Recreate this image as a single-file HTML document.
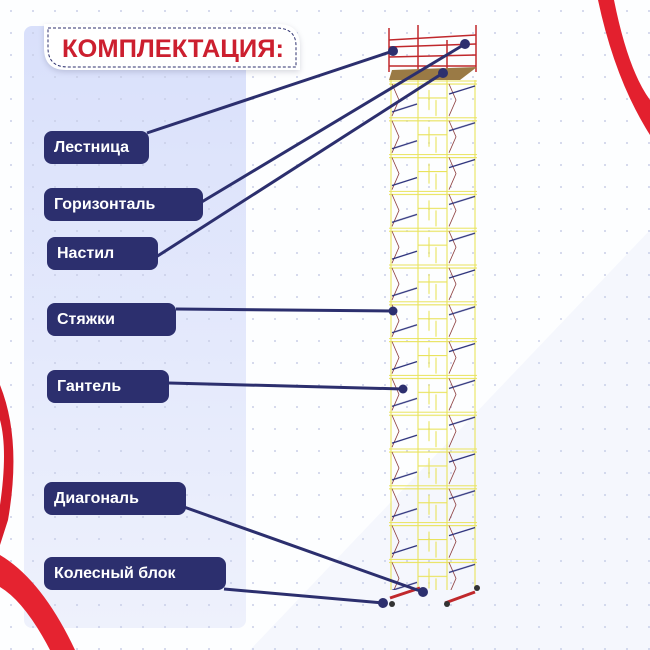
<!DOCTYPE html>
<html><head><meta charset="utf-8"><style>
body{margin:0;width:650px;height:650px;overflow:hidden;background:#fff;font-family:"Liberation Sans",sans-serif;}
.lab{position:absolute;background:#2c2f6e;color:#fff;font-weight:bold;font-size:16px;border-radius:8px;box-sizing:border-box;padding-left:10px;line-height:33px;height:33px;}
</style></head><body>
<svg width="650" height="650" style="position:absolute;left:0;top:0">
<defs>
<pattern id="dots" width="22" height="22" patternUnits="userSpaceOnUse"><circle cx="11" cy="11" r="1" fill="#c9cfe8"/></pattern>
<linearGradient id="pg" x1="0" y1="0" x2="0" y2="1"><stop offset="0" stop-color="#d9e0fb"/><stop offset="1" stop-color="#eef1fc"/></linearGradient>
<pattern id="lvl" x="389" y="80" width="88" height="36.8" patternUnits="userSpaceOnUse">
<g stroke="#e9e35c" stroke-width="1.1" fill="none">
<line x1="0" y1="1" x2="88" y2="1"/><line x1="0" y1="4" x2="88" y2="4"/>
<line x1="29" y1="18" x2="58" y2="18"/>
<line x1="40" y1="10" x2="40" y2="30"/><line x1="47" y1="20" x2="47" y2="36"/>
<line x1="2" y1="0" x2="2" y2="37"/><line x1="29" y1="0" x2="29" y2="37"/><line x1="58" y1="0" x2="58" y2="37"/><line x1="86" y1="0" x2="86" y2="37"/>
</g>
<polyline points="3,4 10,20 3,36" stroke="#8a3a3a" stroke-width="0.8" fill="none"/>
<polyline points="60,4 67,20 60,36" stroke="#8a3a3a" stroke-width="0.8" fill="none"/>
<line x1="3" y1="32" x2="28" y2="24" stroke="#2a2f7a" stroke-width="1.3"/>
<line x1="60" y1="14" x2="86" y2="6" stroke="#2a2f7a" stroke-width="1.3"/>
</pattern>
</defs>
<rect width="650" height="650" fill="#fdfeff"/>
<polygon points="250,650 650,230 650,650" fill="#f5f7fd"/>
<rect width="650" height="650" fill="url(#dots)"/>
<rect x="24" y="26" width="222" height="602" rx="8" fill="url(#pg)"/>
<rect x="24" y="26" width="222" height="602" rx="8" fill="url(#dots)"/>
<!-- ribbons -->
<path d="M598,0 L614,0 Q628,70 650,100 L650,135 Q615,80 598,0Z" fill="#e3202e"/>
<path d="M0,385 Q22,440 8,520 L0,545 L0,505 Q8,450 0,420Z" fill="#d81c2a"/>
<path d="M0,555 Q42,580 75,650 L50,650 Q25,602 0,587Z" fill="#e52330"/>
<!-- scaffold -->
<rect x="389" y="80" width="88" height="510" fill="url(#lvl)"/>
<g stroke="#c0282c" stroke-width="1.5" fill="none">
<line x1="389" y1="28" x2="389" y2="72"/><line x1="418" y1="25" x2="418" y2="72"/><line x1="447" y1="40" x2="447" y2="72"/><line x1="476" y1="25" x2="476" y2="72"/>
<line x1="389" y1="40" x2="476" y2="35"/><line x1="389" y1="47" x2="476" y2="44"/><line x1="389" y1="57" x2="476" y2="55"/><line x1="389" y1="66" x2="476" y2="66"/>
</g>
<polygon points="392,70 477,67 460,80 389,80" fill="#9a7a45"/>
<g stroke="#c0282c" stroke-width="3"><line x1="390" y1="598" x2="420" y2="588"/><line x1="445" y1="603" x2="475" y2="592"/></g>
<circle cx="392" cy="604" r="3" fill="#333"/><circle cx="447" cy="604" r="3" fill="#333"/><circle cx="477" cy="588" r="3" fill="#333"/>
<!-- connectors -->
<g stroke="#2c2f6e" stroke-width="3" fill="none">
<line x1="147" y1="133" x2="393" y2="51"/>
<line x1="200" y1="203" x2="465" y2="44"/>
<line x1="156" y1="257" x2="443" y2="73"/>
<line x1="176" y1="309" x2="393" y2="311"/>
<line x1="169" y1="383" x2="403" y2="389"/>
<line x1="184" y1="507" x2="423" y2="592"/>
<line x1="224" y1="589" x2="383" y2="603"/>
</g>
<g fill="#2c2f6e">
<circle cx="393" cy="51" r="5"/><circle cx="465" cy="44" r="5"/><circle cx="443" cy="73" r="5"/><circle cx="393" cy="311" r="4.5"/><circle cx="403" cy="389" r="4.5"/><circle cx="423" cy="592" r="5"/><circle cx="383" cy="603" r="5"/>
</g>
<!-- title -->
<path d="M44,24 L278,24 Q300,24 300,46 L300,70 L66,70 Q44,70 44,48Z" fill="#fff" filter="drop-shadow(0 2px 3px rgba(0,0,40,0.15))"/>
<path d="M48,28 L276,28 Q296,28 296,46 L296,67 L68,67 Q48,67 48,48Z" fill="none" stroke="#2c2f6e" stroke-dasharray="3,2" stroke-width="1"/>
<text x="62" y="57" font-family="Liberation Sans" font-weight="bold" font-size="25" fill="#cc1f2f" textLength="222" lengthAdjust="spacingAndGlyphs">КОМПЛЕКТАЦИЯ:</text>
</svg>
<div class="lab" style="left:44px;top:131px;width:105px">Лестница</div>
<div class="lab" style="left:44px;top:188px;width:159px">Горизонталь</div>
<div class="lab" style="left:47px;top:237px;width:111px">Настил</div>
<div class="lab" style="left:47px;top:303px;width:129px">Стяжки</div>
<div class="lab" style="left:47px;top:370px;width:122px">Гантель</div>
<div class="lab" style="left:44px;top:482px;width:142px">Диагональ</div>
<div class="lab" style="left:44px;top:557px;width:182px">Колесный блок</div>
</body></html>
